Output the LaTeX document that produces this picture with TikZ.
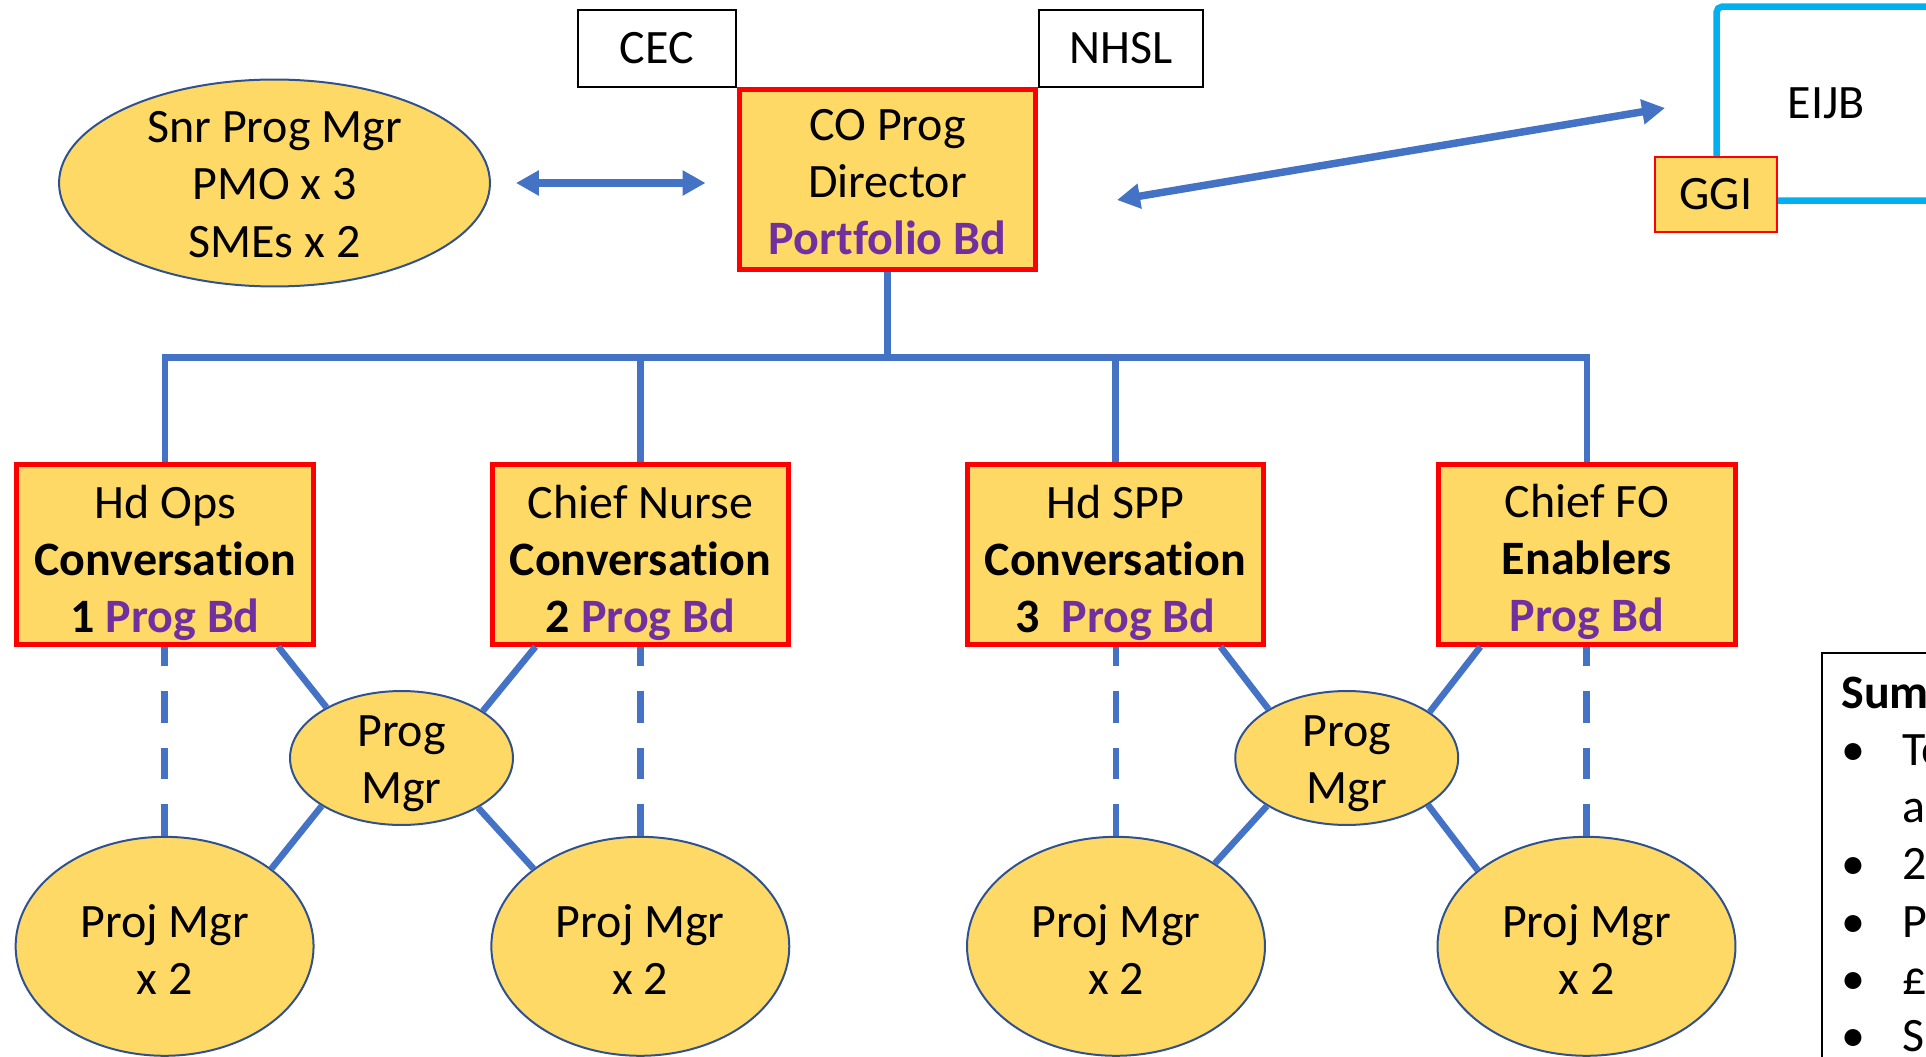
\documentclass[tikz,border=0pt]{standalone}
\usepackage{fontspec}
\setmainfont{Carlito}[Ligatures=NoCommon]
\usetikzlibrary{arrows.meta,shapes.geometric}

\definecolor{boxfill}{HTML}{FFD966}
\definecolor{boxred}{HTML}{FF0000}
\definecolor{linkblue}{HTML}{4472C4}
\definecolor{ovalrim}{HTML}{2F528F}
\definecolor{boardpurple}{HTML}{7030A0}
\definecolor{eijbcyan}{HTML}{00B0F0}

% board names are set bold in purple
\newcommand{\boardname}[1]{\textbf{\color{boardpurple}#1}}
\newcommand{\bulletline}[1]{\makebox[1.22cm][l]{•}#1}

\begin{document}
\begin{tikzpicture}[x=0.02cm,y=-0.02cm,
  every node/.style={font=\fontsize{27.3}{32.6}\selectfont, inner sep=0pt},
  rolebox/.style={rectangle, draw=boxred, line width=0.1cm, fill=boxfill,
    minimum width=5.94cm, minimum height=3.6cm},
  partner/.style={rectangle, draw=black, line width=0.04cm, fill=white,
    minimum height=1.53cm},
  oval/.style={ellipse, draw=ovalrim, line width=0.04cm, fill=boxfill},
  progoval/.style={oval, minimum width=4.46cm, minimum height=2.68cm},
  projoval/.style={oval, minimum width=5.96cm, minimum height=4.38cm},
  textblock/.style={align=center},
  link/.style={draw=linkblue, line width=0.13cm},
  dashlink/.style={draw=linkblue, line width=0.13cm,
    dash pattern=on 0.63cm off 0.5cm},
  twoway/.style={draw=linkblue, line width=0.15cm,
    {Triangle[length=0.46cm,width=0.48cm]}-{Triangle[length=0.46cm,width=0.48cm]}},
]
\useasboundingbox (0,0) rectangle (1926,1057);
\clip (0,0) rectangle (1926,1057);

% partner bodies above the programme director
\node[partner, minimum width=3.17cm] (cec)  at (656.9,48.4)  {CEC};
\node[partner, minimum width=3.29cm] (nhsl) at (1120.9,48.4) {NHSL};

% programme director
\node[rolebox, label={[name=cotext, textblock, yshift=-0.05cm]center:{CO Prog\\Director\\\boardname{Portfolio Bd}}}]
  (co) at (887.5,179.5) {};

% programme support team
\node[oval, minimum width=8.62cm, minimum height=4.14cm,
  label={[name=snrtext, textblock, yshift=-0.03cm]center:{Snr Prog Mgr\\PMO x 3\\SMEs x 2}}]
  (snr) at (274.5,183) {};

% integration joint board with GGI
\node[draw=eijbcyan, line width=0.13cm, rounded corners=3pt,
  minimum width=4.39cm, minimum height=3.88cm] (eijb) at (1826.4,103.7) {EIJB};
\node[rectangle, draw=boxred, line width=0.04cm, fill=boxfill,
  minimum width=2.44cm, minimum height=1.51cm] (ggi) at (1716,194.5) {GGI};

% programme boards
\node[rolebox, label={[name=b1text, textblock, yshift=-0.17cm]center:{Hd Ops\\\textbf{Conversation}\\\textbf{1} \boardname{Prog Bd}}}]
  (b1) at (165.2,554.2) {};
\node[rolebox, label={[name=b2text, textblock, yshift=-0.17cm]center:{Chief Nurse\\\textbf{Conversation}\\\textbf{2} \boardname{Prog Bd}}}]
  (b2) at (640.5,554.2) {};
\node[rolebox, label={[name=b3text, textblock, yshift=-0.17cm]center:{Hd SPP\\\textbf{Conversation}\\\textbf{3}\ \ \boardname{Prog Bd}}}]
  (b3) at (1115.5,554.2) {};
\node[rolebox, label={[name=b4text, textblock, yshift=-0.15cm]center:{Chief FO\\\textbf{Enablers}\\\boardname{Prog Bd}}}]
  (b4) at (1586.9,554.2) {};

% programme managers
\node[progoval, label={[name=pm1text, textblock, yshift=-0.12cm]center:{Prog\\Mgr}}] (pm1) at (401.5,758)  {};
\node[progoval, label={[name=pm2text, textblock, yshift=-0.12cm]center:{Prog\\Mgr}}] (pm2) at (1346.7,758) {};

% project managers
\node[projoval, label={[name=pj1text, textblock, yshift=-0.07cm]center:{Proj Mgr\\x 2}}] (pj1) at (164.6,946.3)  {};
\node[projoval, label={[name=pj2text, textblock, yshift=-0.07cm]center:{Proj Mgr\\x 2}}] (pj2) at (640.3,946.3)  {};
\node[projoval, label={[name=pj3text, textblock, yshift=-0.07cm]center:{Proj Mgr\\x 2}}] (pj3) at (1116,946.3)   {};
\node[projoval, label={[name=pj4text, textblock, yshift=-0.07cm]center:{Proj Mgr\\x 2}}] (pj4) at (1586.5,946.3) {};

% reporting tree
\coordinate (bar) at (887.5,357.4);
\draw[link] (co.south) -- (co.south |- bar);
\draw[link] (b1.north) -- (b1.north |- bar) -- (b4.north |- bar) -- (b4.north);
\draw[link] (b2.north) -- (b2.north |- bar);
\draw[link] (b3.north) -- (b3.north |- bar);

% programme manager links
\draw[link] ([xshift=-0.76cm]b1.south east) -- (pm1.146);
\draw[link] ([xshift=0.92cm]b2.south west)  -- (pm1.30);
\draw[link] (pm1.211) -- (pj1.36);
\draw[link] (pm1.327) -- (pj2.144.5);
\draw[link] ([xshift=-0.92cm]b3.south east) -- (pm2.148);
\draw[link] ([xshift=0.89cm]b4.south west)  -- (pm2.29);
\draw[link] (pm2.211) -- (pj3.40);
\draw[link] (pm2.330) -- (pj4.145);

% dashed project lines
\draw[dashlink] (pj1.north) -- (pj1.north |- b1.south);
\draw[dashlink] (pj2.north) -- (pj2.north |- b2.south);
\draw[dashlink] (pj3.north) -- (pj3.north |- b3.south);
\draw[dashlink] (pj4.north) -- (pj4.north |- b4.south);

% two-way links
\draw[twoway] ([xshift=0.5cm]snr.east) -- ([xshift=-0.62cm]snr.east -| co.west);
\coordinate (cotip) at (1117,200);
\coordinate (eijbtip) at (1665,108);
\draw[twoway] (cotip) -- (eijbtip);

% summary panel
\node[draw=black, line width=0.04cm, anchor=north west,
  minimum width=6cm, minimum height=10cm] (sumframe) at (1820.7,651.7) {};
\node[anchor=base west] (sumtext) at (1841,708) {\parbox[t]{4cm}{\raggedright
  \textbf{Sum}\\
  \bulletline{To}\\
  \hspace*{1.22cm}ac\\
  \bulletline{2}\\
  \bulletline{P}\\
  \bulletline{£}\\
  \bulletline{S}}};
\end{tikzpicture}
\end{document}
